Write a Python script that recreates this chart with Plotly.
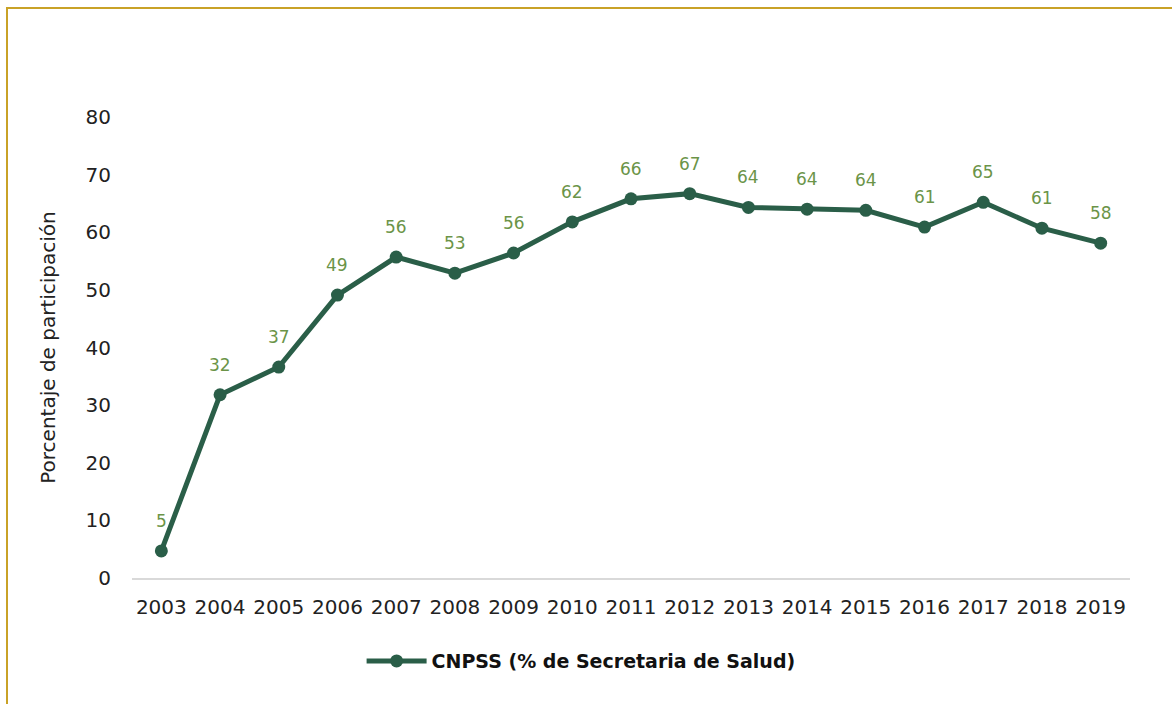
import plotly.graph_objects as go

years = ["2003", "2004", "2005", "2006", "2007", "2008", "2009", "2010", "2011",
         "2012", "2013", "2014", "2015", "2016", "2017", "2018", "2019"]
values = [4.7, 31.8, 36.6, 49.1, 55.7, 52.9, 56.4, 61.8, 65.8,
          66.7, 64.3, 64.0, 63.8, 60.9, 65.2, 60.7, 58.1]
series_name = "CNPSS (% de Secretaria de Salud)"

W, H = 1172, 704
L, R, T, B = 132, 42, 117, 126
pw, ph = W - L - R, H - T - B

font_family = "DejaVu Sans, sans-serif"
line_color = "#2A5E48"
label_color = "#6B9448"
gold = "#C9A227"

fig = go.Figure()
fig.add_trace(go.Scatter(
    x=years, y=values, name=series_name,
    mode="lines+markers",
    line=dict(color=line_color, width=5),
    marker=dict(color=line_color, size=13),
    cliponaxis=False,
))

for i, v in enumerate(values):
    fig.add_annotation(x=i, y=v, xref="x", yref="y", text=f"{v:.0f}", showarrow=False,
                       yshift=30, font=dict(color=label_color, size=17, family=font_family))

def px_x(px):
    return (px - L) / pw

def px_y(py):
    return (H - B - py) / ph

fig.add_shape(type="line", xref="paper", yref="paper",
              x0=px_x(7), x1=px_x(7), y0=px_y(7), y1=px_y(710),
              line=dict(color=gold, width=2))
fig.add_shape(type="line", xref="paper", yref="paper",
              x0=px_x(6), x1=px_x(1180), y0=px_y(8), y1=px_y(8),
              line=dict(color=gold, width=2))

fig.update_layout(
    width=W, height=H,
    margin=dict(l=L, r=R, t=T, b=B),
    paper_bgcolor="white", plot_bgcolor="white",
    font=dict(family=font_family, size=20, color="#222222"),
    showlegend=True,
    legend=dict(orientation="h", x=0.45, xanchor="center", y=-0.139, yanchor="top",
                itemwidth=60,
                font=dict(size=19, color="#111111", family=font_family, weight="bold")),
    xaxis=dict(type="category", range=[-0.5, 16.5], showgrid=False,
               showline=True, linecolor="#D9D9D9", linewidth=2,
               ticks="", ticklabelstandoff=10, tickfont=dict(size=20, color="#222222")),
    yaxis=dict(range=[0, 80], dtick=10, showgrid=False, zeroline=False,
               showline=False, ticks="", ticklabelstandoff=20,
               tickfont=dict(size=20, color="#222222"),
               title=dict(text="Porcentaje de participación", standoff=24,
                          font=dict(size=20, color="#222222"))),
)

fig.write_html("out.html", config={"displayModeBar": False},
               post_script="document.body.style.margin='0';")
